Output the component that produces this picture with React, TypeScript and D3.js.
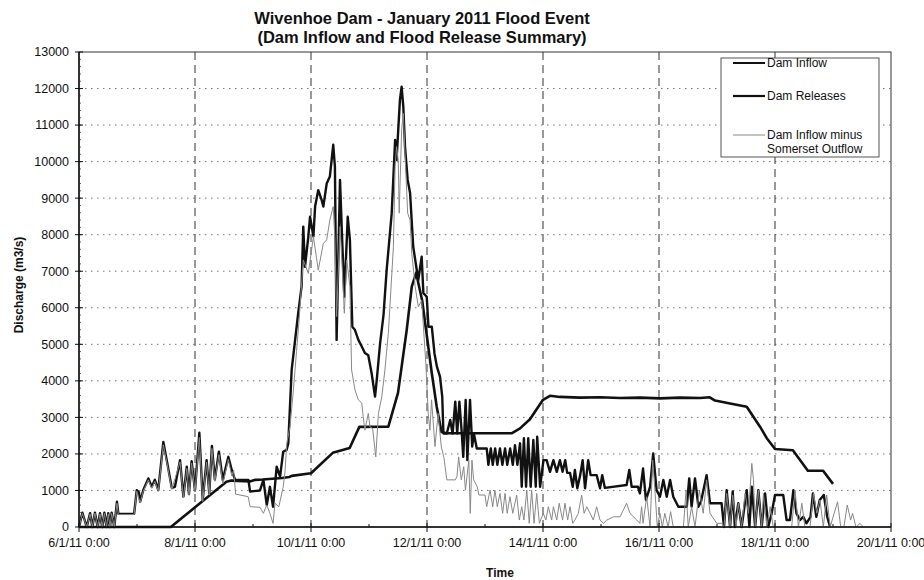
import React, { useRef, useEffect } from 'react';
import * as d3 from 'd3';

// hours after 6/1/11 0:00, discharge m3/s
const damReleases: [number, number][] = [
  [0, 0], [38, 0], [61, 1240], [63, 1270], [71, 1250], [73, 1290], [76, 1300], [84, 1340], [87, 1370],
  [88, 1400], [96, 1470], [105, 2030], [112, 2160], [116, 2740], [128, 2745], [132, 3670], [135.6, 5390],
  [137.7, 6580], [139.5, 6950], [142, 6200], [144, 5200], [146, 4200], [148, 3300], [150, 2600], [152, 2565],
  [179, 2565], [182.5, 2700], [186.6, 2950], [192, 3480], [194.9, 3590], [199, 3560], [207.3, 3540],
  [215.6, 3550], [223.9, 3530], [232, 3540], [240.4, 3520], [248.7, 3540], [257, 3530], [261, 3550],
  [263.2, 3460], [269.4, 3380], [276.3, 3290], [281.8, 2745], [284.6, 2430], [288, 2135], [295.4, 2100],
  [301.6, 1540], [307.9, 1540], [312, 1180]
];

const damInflow: [number, number][] = [
  [0, 0], [1.4, 390], [3.2, 0], [4.6, 380], [5.5, 0], [6.6, 390], [7.7, 0], [8.7, 380], [9.6, 0], [10.5, 390],
  [11.4, 0], [12.1, 380], [12.8, 0], [13.5, 390], [14.6, 0], [15.7, 690], [16.3, 360], [22.8, 360],
  [23.9, 1010], [24.8, 950], [25.3, 690], [26.6, 1010], [28.7, 1330], [30.1, 1100], [31.4, 1290],
  [32.8, 1010], [34.9, 2330], [36.3, 1830], [38.4, 1070], [39.7, 1100], [41.8, 1830], [43.2, 830],
  [44.6, 1650], [45.5, 900], [46.6, 1800], [48, 1000], [49.8, 2580], [51.2, 740], [52.8, 1830], [53.9, 920],
  [55, 2220], [56.2, 1300], [57.9, 2060], [59.5, 1290], [61.8, 1920], [63.2, 1560], [64.6, 1290],
  [70.1, 1290], [70.8, 970], [74.9, 1000], [76.3, 1290], [77.7, 600], [79, 1100], [80.3, 555], [81.8, 1650],
  [83.2, 1380], [84.5, 2060], [85.9, 2110], [86.6, 2290], [88, 4300], [90.7, 5850], [92.1, 6580],
  [92.8, 8220], [93.5, 7120], [94.9, 7950], [95.6, 8490], [97, 7950], [97.7, 8770], [99, 9220],
  [100.4, 8950], [101.1, 8770], [102.5, 9400], [103.8, 9590], [105.2, 10460], [105.9, 9860], [106.6, 5120],
  [108, 9500], [108.9, 7860], [109.8, 6300], [111.2, 8490], [112.1, 7860], [113.1, 5480], [114.2, 5390],
  [115.6, 5120], [117, 4940], [118.3, 4760], [119.7, 4700], [121.1, 4200], [122.5, 3570], [123.2, 4020],
  [124.6, 5030], [126, 5800], [127.3, 7030], [129.4, 8590], [130.8, 10590], [131.4, 10040], [132.1, 10870],
  [132.8, 11690], [133.5, 12050], [134.2, 11500], [134.9, 10410], [136, 9500], [137, 9140], [138.3, 7670],
  [140.4, 6760], [141.8, 7400], [142.5, 6400], [143.9, 6300], [144.6, 5480], [146, 5480], [147.1, 4750],
  [148.1, 4390], [149.4, 4110], [150.3, 3570], [150.8, 2560], [152.2, 2560], [153.6, 2930], [154.6, 2560],
  [155.7, 3430], [156.5, 2560], [157.4, 3430], [158.4, 2560], [159, 1920], [160, 3480], [160.7, 1830],
  [161.8, 3480], [162.7, 2200], [163.4, 2560], [164.6, 2150], [168.7, 2150], [169.4, 1700], [170.4, 2150],
  [171.2, 1700], [172.2, 2150], [173.1, 1700], [174.2, 2150], [175.2, 1700], [176.3, 2150], [177.2, 1700],
  [178.4, 2150], [179.5, 1700], [180.4, 2240], [181.4, 1700], [182.5, 2290], [183.2, 1100], [184.1, 2430],
  [185, 1100], [185.9, 2430], [186.9, 1100], [188, 2380], [189, 1100], [189.6, 2470], [190.8, 1100],
  [192.2, 1830], [193.5, 1830], [194.9, 1510], [196.3, 1830], [197.7, 1510], [199, 1830], [200.1, 1510],
  [201.2, 1830], [202, 1480], [203.2, 1480], [204.3, 1100], [205.2, 1560], [206.2, 1060], [207.4, 1420],
  [208.4, 1830], [209.4, 1060], [210.7, 1830], [211.7, 1420], [214.2, 1420], [215.6, 1060], [216.5, 1420],
  [217.6, 1070], [226.6, 1150], [227.7, 1560], [228.7, 1100], [231.3, 1100], [232.1, 920], [233.4, 1600],
  [234.6, 740], [236.3, 1100], [237.6, 2010], [239, 1010], [240.4, 830], [241.8, 1290], [243.2, 830],
  [244.6, 1290], [245.9, 830], [248, 555], [251.5, 555], [252.5, 1330], [253.5, 555], [254.9, 1330],
  [256.3, 555], [257.4, 700], [259.7, 1420], [261.1, 650], [265.9, 650], [266.9, 0], [268, 1010],
  [269.4, 0], [270.5, 970], [271.4, 0], [272.8, 650], [274.2, 0], [276.3, 1010], [277.4, 0], [278.4, 1100],
  [279.8, 0], [281.1, 1010], [282.5, 0], [283.9, 920], [285.2, 0], [286.6, 370], [288, 875], [291.4, 875],
  [292.8, 190], [294.2, 190], [295.6, 1010], [296.9, 370], [298.3, 190], [299.7, 280], [301, 100],
  [302.7, 280], [303.7, 920], [305.1, 280], [306.5, 740], [308.2, 875], [309.6, 280], [310.8, 0]
];

const inflowMinusSomerset: [number, number][] = [
  [0, 0], [1.4, 370], [3.2, 0], [4.6, 360], [5.5, 0], [6.6, 380], [7.7, 0], [8.7, 360], [9.6, 0], [10.5, 370],
  [11.4, 0], [12.1, 360], [12.8, 0], [13.5, 370], [14.6, 0], [15.7, 650], [16.3, 340], [22.8, 340],
  [23.9, 980], [25.3, 660], [26.6, 980], [28.7, 1290], [30.1, 1060], [31.4, 1250], [32.8, 980],
  [34.9, 2250], [36.3, 1780], [38.4, 1030], [41.8, 1780], [43.2, 800], [44.6, 1600], [45.5, 870],
  [46.6, 1750], [48, 960], [49.8, 2450], [51.2, 700], [52.8, 1780], [53.9, 880], [55, 2150], [56.2, 1250],
  [57.9, 1980], [59.5, 1180], [61.8, 1850], [63.2, 1400], [64, 1560], [64.8, 900], [70, 830], [70.8, 555],
  [74.9, 540], [76.3, 375], [77.7, 600], [79, 375], [80.3, 100], [81.1, 650], [82.7, 555], [84.5, 1100],
  [85.2, 1480], [86, 2300], [87.3, 2740], [88.6, 3660], [90, 4800], [91, 5600], [92.8, 7310], [94.9, 6940],
  [97, 7950], [99, 7030], [101.1, 7760], [102.5, 7860], [103.8, 8400], [105.2, 8770], [105.9, 7860],
  [106.6, 5760], [108, 8220], [108.9, 7120], [109.8, 5850], [110.8, 7310], [112.1, 6580], [112.8, 4300],
  [114.2, 3750], [115.6, 3480], [117, 3390], [117.6, 3020], [118.3, 2650], [119.7, 3110], [120.4, 2740],
  [121.5, 2700], [122.8, 1920], [123.9, 3110], [125.3, 3570], [126.6, 4300], [128, 5300], [130.1, 7670],
  [130.8, 9860], [131.4, 10410], [132.1, 10040], [132.5, 8590], [133.5, 10870], [134.2, 11320],
  [134.9, 10230], [136, 8590], [137, 8400], [137.7, 7490], [139.1, 6580], [140.4, 6030], [141.8, 6200],
  [142.5, 5500], [143.5, 4500], [144.5, 3110], [145.2, 2650], [145.9, 3480], [147.3, 2200], [148.6, 3110],
  [149.9, 2200], [151, 1900], [151.5, 1650], [152.2, 1290], [155.7, 1290], [156.4, 1380], [157.1, 1920],
  [158.2, 1290], [159.2, 1650], [159.9, 1010], [161.3, 1830], [161.9, 375], [162.6, 1830], [163.3, 1290],
  [164.8, 1100], [165.5, 875], [168, 875], [168.7, 555], [170.1, 1010], [171.2, 555], [172.1, 1010],
  [173.1, 555], [174.2, 920], [175.3, 375], [176.3, 920], [177.2, 375], [178.3, 830], [179.5, 375],
  [181.1, 875], [182.2, 190], [183.2, 555], [184.1, 190], [185.3, 1010], [186.3, 100], [187.3, 1010],
  [188.3, 100], [189.4, 920], [190.5, 100], [192.1, 375], [193.2, 190], [194.2, 555], [195.6, 190],
  [196.3, 555], [197.7, 190], [198.7, 650], [200.1, 190], [201.1, 650], [202.2, 190], [203.2, 555],
  [204.3, 100], [205.2, 190], [206.6, 375], [208, 875], [209, 375], [210.1, 555], [211.5, 375], [212.8, 190],
  [214.2, 555], [215.6, 190], [217, 100], [218.4, 190], [221.2, 280], [223.9, 280], [226.6, 650], [228, 375],
  [230.8, 190], [232.1, 100], [232.8, 555], [233.4, 100], [234.9, 830], [236.3, 0], [237.4, 1830],
  [238.4, 920], [239.3, 0], [240.4, 375], [241.4, 0], [242.4, 375], [243.8, 0], [244.8, 420], [245.9, 0],
  [250.1, 0], [251.2, 1010], [252.1, 0], [253.5, 555], [254.9, 0], [256.7, 1010], [258.3, 375], [259.7, 1290],
  [261.1, 375], [263.9, 100], [265.9, 100], [266.9, 0], [268, 920], [269.4, 0], [270.5, 875], [271.9, 0],
  [272.8, 650], [274.2, 0], [275.6, 920], [277, 375], [278.4, 1740], [279.1, 1290], [279.8, 0], [281.1, 1010],
  [282.5, 0], [283.2, 920], [284.6, 0], [286, 555], [287.3, 0], [294.9, 0], [296.3, 1010], [297.7, 0],
  [299.1, 650], [300.4, 0], [302.5, 0], [303.9, 920], [305.3, 375], [306.6, 740], [308, 0], [309.4, 875],
  [310.8, 0], [313.9, 690], [315.2, 0], [316.5, 0], [317.9, 600], [319.3, 190], [320.1, 375], [321.5, 0],
  [323.2, 100], [324.5, 0]
];

const xTickDays = [6, 8, 10, 12, 14, 16, 18, 20];
const xTickLabels = ['6/1/11 0:00', '8/1/11 0:00', '10/1/11 0:00', '12/1/11 0:00', '14/1/11 0:00', '16/1/11 0:00', '18/1/11 0:00', '20/1/11 0:00'];
const yTicks = [0, 1000, 2000, 3000, 4000, 5000, 6000, 7000, 8000, 9000, 10000, 11000, 12000, 13000];

const legendLabels = ['Dam Inflow', 'Dam Releases', 'Dam Inflow minus'];

const start = new Date(2011, 0, 6);
const toDate = (h: number) => new Date(start.getTime() + h * 3600 * 1000);

const width = 924;
const height = 580;
const FONT = '"Liberation Sans", Arial, sans-serif';

const App: React.FC = () => {
  const ref = useRef<SVGSVGElement | null>(null);

  useEffect(() => {
    if (!ref.current) return;
    const svg = d3.select(ref.current);
    svg.selectAll('*').remove();

    const margin = { top: 52, right: 33, bottom: 53, left: 79 };
    const innerWidth = width - margin.left - margin.right;
    const innerHeight = height - margin.top - margin.bottom;

    const x = d3.scaleTime().domain([new Date(2011, 0, 6), new Date(2011, 0, 20)]).range([0, innerWidth]);
    const y = d3.scaleLinear().domain([0, 13000]).range([innerHeight, 0]);

    svg.append('rect').attr('width', width).attr('height', height).attr('fill', '#fff');

    const g = svg.append('g').attr('transform', `translate(${margin.left},${margin.top})`);

    // horizontal dotted grid
    g.append('g')
      .selectAll('line')
      .data(yTicks.slice(1, -1))
      .join('line')
      .attr('x1', 0)
      .attr('x2', innerWidth)
      .attr('y1', d => y(d))
      .attr('y2', d => y(d))
      .attr('stroke', '#777')
      .attr('stroke-width', 1)
      .attr('stroke-dasharray', '1.5,4.5');

    // vertical dashed grid
    g.append('g')
      .selectAll('line')
      .data(xTickDays.slice(1, -1))
      .join('line')
      .attr('x1', d => x(new Date(2011, 0, d)))
      .attr('x2', d => x(new Date(2011, 0, d)))
      .attr('y1', 0)
      .attr('y2', innerHeight)
      .attr('stroke', '#333')
      .attr('stroke-width', 1)
      .attr('stroke-dasharray', '8,5');

    // plot border
    g.append('rect')
      .attr('width', innerWidth)
      .attr('height', innerHeight)
      .attr('fill', 'none')
      .attr('stroke', '#333')
      .attr('stroke-width', 1);

    const line = d3
      .line<[number, number]>()
      .x(d => x(toDate(d[0])))
      .y(d => y(d[1]));

    g.append('path')
      .datum(damReleases)
      .attr('fill', 'none')
      .attr('stroke', '#111')
      .attr('stroke-width', 2.6)
      .attr('stroke-linejoin', 'round')
      .attr('d', line);

    g.append('path')
      .datum(damInflow)
      .attr('fill', 'none')
      .attr('stroke', '#111')
      .attr('stroke-width', 2.4)
      .attr('stroke-linejoin', 'round')
      .attr('d', line);

    g.append('path')
      .datum(inflowMinusSomerset)
      .attr('fill', 'none')
      .attr('stroke', '#888')
      .attr('stroke-width', 1)
      .attr('stroke-linejoin', 'round')
      .attr('d', line);

    // y axis
    const yAxis = g.append('g').attr('font-family', FONT);
    yAxis.append('line').attr('x1', 0).attr('x2', 0).attr('y1', 0).attr('y2', innerHeight)
      .attr('stroke', '#111').attr('stroke-width', 1.5);
    yAxis.selectAll('line.minor')
      .data(d3.range(0, 13000, 200))
      .join('line')
      .attr('class', 'minor')
      .attr('x1', 0).attr('x2', 2)
      .attr('y1', d => y(d)).attr('y2', d => y(d))
      .attr('stroke', '#333').attr('stroke-width', 0.8);
    yAxis.selectAll('line.major')
      .data(yTicks)
      .join('line')
      .attr('class', 'major')
      .attr('x1', -4).attr('x2', 4)
      .attr('y1', d => y(d)).attr('y2', d => y(d))
      .attr('stroke', '#111');
    yAxis.selectAll('text')
      .data(yTicks)
      .join('text')
      .attr('x', -10)
      .attr('y', d => y(d))
      .attr('dy', '0.35em')
      .attr('text-anchor', 'end')
      .attr('font-size', 12.5)
      .attr('fill', '#111')
      .text(d => String(d));

    // x axis
    const xAxis = g.append('g').attr('transform', `translate(0,${innerHeight})`).attr('font-family', FONT);
    xAxis.append('line').attr('x1', 0).attr('x2', innerWidth).attr('stroke', '#111').attr('stroke-width', 1.5);
    xAxis.selectAll('line.minor')
      .data(d3.range(7, 20, 2))
      .join('line')
      .attr('class', 'minor')
      .attr('x1', d => x(new Date(2011, 0, d))).attr('x2', d => x(new Date(2011, 0, d)))
      .attr('y1', 0).attr('y2', -3)
      .attr('stroke', '#111');
    xAxis.selectAll('line.major')
      .data(xTickDays)
      .join('line')
      .attr('class', 'major')
      .attr('x1', d => x(new Date(2011, 0, d))).attr('x2', d => x(new Date(2011, 0, d)))
      .attr('y1', -4).attr('y2', 5)
      .attr('stroke', '#111');
    xAxis.selectAll('text')
      .data(xTickDays)
      .join('text')
      .attr('x', d => x(new Date(2011, 0, d)))
      .attr('y', 20)
      .attr('text-anchor', 'middle')
      .attr('font-size', 12.5)
      .attr('fill', '#111')
      .text((_d, i) => xTickLabels[i]);

    // titles
    const titles = svg.append('g').attr('font-family', FONT).attr('font-weight', 'bold').attr('fill', '#111');
    titles.append('text').attr('x', 422).attr('y', 24).attr('text-anchor', 'middle').attr('font-size', 16.5)
      .text('Wivenhoe Dam - January 2011 Flood Event');
    titles.append('text').attr('x', 422).attr('y', 43).attr('text-anchor', 'middle').attr('font-size', 16.5)
      .text('(Dam Inflow and Flood Release Summary)');
    titles.append('text').attr('transform', 'translate(23,285) rotate(-90)').attr('text-anchor', 'middle')
      .attr('font-size', 12).text('Discharge (m3/s)');
    titles.append('text').attr('x', 500).attr('y', 577).attr('text-anchor', 'middle').attr('font-size', 12)
      .text('Time');

    // legend
    const legend = svg.append('g').attr('font-family', FONT);
    legend.append('rect')
      .attr('x', 721).attr('y', 58).attr('width', 158).attr('height', 99)
      .attr('fill', '#fff').attr('stroke', '#555').attr('stroke-width', 1);
    const rows = [
      { y: 63, color: '#111', w: 2 },
      { y: 96, color: '#111', w: 2.2 },
      { y: 135, color: '#888', w: 1 }
    ];
    rows.forEach((r, i) => {
      legend.append('line').attr('x1', 733).attr('x2', 765).attr('y1', r.y).attr('y2', r.y)
        .attr('stroke', r.color).attr('stroke-width', r.w);
      legend.append('text').attr('x', 767).attr('y', r.y).attr('dy', '0.35em').attr('font-size', 12)
        .attr('fill', '#111').text(legendLabels[i]);
    });
    legend.append('text').attr('x', 767).attr('y', 149).attr('dy', '0.35em').attr('font-size', 12)
      .attr('fill', '#111').text('Somerset Outflow');
  }, []);

  return (
    <svg
      ref={ref}
      width={width}
      height={height}
      viewBox={`0 0 ${width} ${height}`}
      style={{ position: 'absolute', left: 0, top: 0 }}
    />
  );
};

export default App;
